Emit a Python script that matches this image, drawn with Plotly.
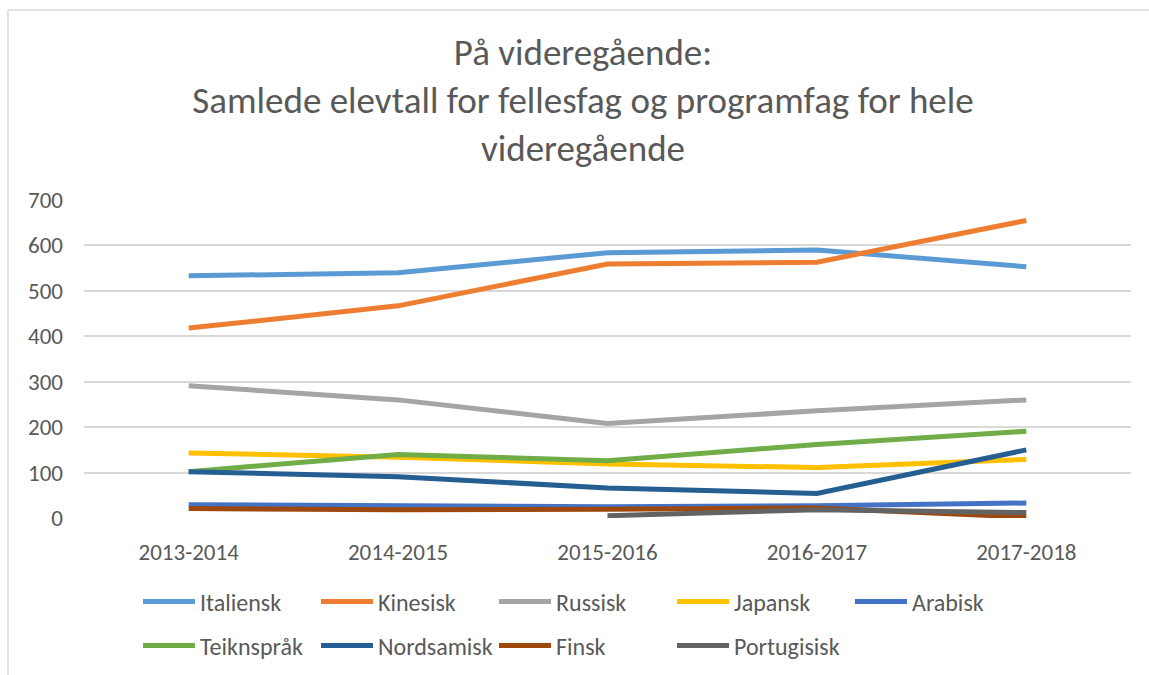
import plotly.graph_objects as go

years = ["2013-2014", "2014-2015", "2015-2016", "2016-2017", "2017-2018"]
italiensk = [533, 540, 584, 590, 553]
kinesisk = [418, 467, 559, 563, 655]
russisk = [291, 260, 208, 236, 260]
japansk = [143, 134, 119, 111, 129]
arabisk = [29, 28, 25, 27, 33]
teiknsprak = [102, 140, 126, 162, 191]
nordsamisk = [102, 91, 66, 54, 150]
finsk = [21, 18, 19, 22, 2]
portugisisk = [None, None, 5, 18, 12]

series = [
    ("Italiensk", italiensk, "#5B9BD5", "legend"),
    ("Kinesisk", kinesisk, "#ED7D31", "legend"),
    ("Russisk", russisk, "#A5A5A5", "legend"),
    ("Japansk", japansk, "#FFC000", "legend"),
    ("Arabisk", arabisk, "#4472C4", "legend"),
    ("Teiknspråk", teiknsprak, "#70AD47", "legend2"),
    ("Nordsamisk", nordsamisk, "#255E91", "legend2"),
    ("Finsk", finsk, "#9E480E", "legend2"),
    ("Portugisisk", portugisisk, "#636363", "legend2"),
]

FONT = "Carlito, Lato, sans-serif"
GRAY = "#595959"

fig = go.Figure()
for name, vals, color, lg in series:
    fig.add_trace(go.Scatter(
        x=years, y=vals, name=name, mode="lines",
        line=dict(color=color, width=5),
        legend=lg,
    ))

W, H = 1149, 675
L, R, T, B = 84, 1131, 200, 518
pw, ph = R - L, B - T

def px_x(p):
    return (p - L) / pw

def px_y(p):
    return (B - p) / ph

legend_common = dict(
    orientation="h", xanchor="left", yanchor="middle",
    font=dict(family=FONT, size=24, color=GRAY),
    itemwidth=52, entrywidth=111, entrywidthmode="pixels",
    bgcolor="rgba(0,0,0,0)", tracegroupgap=0,
)

fig.update_layout(
    width=W, height=H,
    margin=dict(l=L, r=W - R, t=T, b=H - B, autoexpand=False),
    paper_bgcolor="white", plot_bgcolor="white",
    title=dict(
        text="På videregående:<br>Samlede elevtall for fellesfag og programfag for hele<br>videregående",
        x=583 / W, xanchor="center", xref="container",
        y=1 - 65 / H, yanchor="top", yref="container",
        font=dict(family=FONT, size=37, color=GRAY),
    ),
    xaxis=dict(
        type="category", range=[-0.5, 4.5], showgrid=False, showline=False, zeroline=False,
        ticks="", ticklabelstandoff=18,
        tickfont=dict(family=FONT, size=23, color=GRAY),
    ),
    yaxis=dict(
        range=[0, 700], dtick=100, showgrid=True, gridcolor="#D9D9D9", gridwidth=1.5,
        zeroline=False, showline=False, ticks="", ticklabelstandoff=20,
        tickfont=dict(family=FONT, size=23, color=GRAY),
    ),
    legend=dict(x=px_x(138), y=px_y(602), **legend_common),
    legend2=dict(x=px_x(138), y=px_y(646), **legend_common),
    shapes=[
        dict(type="line", xref="paper", yref="paper",
             x0=px_x(8), x1=px_x(1149), y0=px_y(10), y1=px_y(10),
             line=dict(color="#D9D9D9", width=1.5)),
        dict(type="line", xref="paper", yref="paper",
             x0=px_x(8), x1=px_x(8), y0=px_y(10), y1=px_y(675),
             line=dict(color="#D9D9D9", width=1.5)),
    ],
)

fig.write_html("out.html")
